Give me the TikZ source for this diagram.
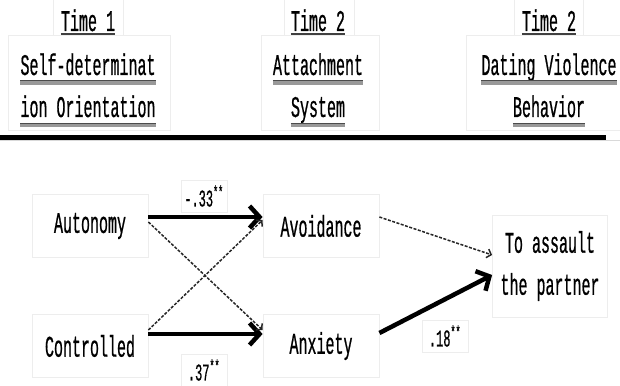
\documentclass[tikz,border=0pt]{standalone}
\usepackage{fontspec}
\setmainfont[FakeStretch=0.5,FakeBold=0.6]{Liberation Mono}
\usetikzlibrary{arrows.meta}

\begin{document}
\begin{tikzpicture}[x=1pt,y=-1pt,line cap=butt,
    every node/.style={inner sep=0pt,font=\fontsize{30}{42}\selectfont},
    frame/.style={draw=black!7,line width=0.8pt},
    varbox/.style={frame,minimum width=116pt,minimum height=63pt},
    lblbox/.style={frame,minimum width=46pt,minimum height=32pt,font=\fontsize{24}{26}\selectfont},
    oneline/.style={draw=black!75,line width=1.6pt},
    twoline/.style={draw=black!40,line width=4pt},
    strong/.style={line width=4.5pt,-{Straight Barb[length=10pt,width=22pt]}},
    weak/.style={line width=1.5pt,draw=black!85,dash pattern=on 3pt off 1.5pt,-{Straight Barb[length=4pt,width=9pt]}}]
\useasboundingbox (0,0) rectangle (620,385);

% header frames
\draw[frame] (53,-2) rectangle (123,35);
\draw[frame] (8,35) rectangle (170,130);
\draw[frame] (284,-2) rectangle (354,35);
\draw[frame] (261,35) rectangle (379,130);
\draw[frame] (514,-2) rectangle (583,35);
\draw[frame] (466,35) rectangle (625,130);

% header texts
\node[anchor=base] (t1) at (88,31) {Time 1};
\node[anchor=base] (sd1) at (88,75) {Self-determinat};
\node[anchor=base] (sd2) at (88,117) {ion Orientation};
\node[anchor=base] (t2) at (318,31) {Time 2};
\node[anchor=base] (as1) at (318,75) {Attachment};
\node[anchor=base] (as2) at (318,117) {System};
\node[anchor=base] (t3) at (549,31) {Time 2};
\node[anchor=base] (dv1) at (549,75) {Dating Violence};
\node[anchor=base] (dv2) at (549,117) {Behavior};

% underlines
\foreach \n in {t1,t2,t3}
  \draw[oneline] ([yshift=-3pt]\n.base west) -- ([yshift=-3pt]\n.base east);
\foreach \n in {sd1,sd2,as1,as2,dv1,dv2}{
  \draw[twoline] ([yshift=-8pt]\n.base west) -- ([yshift=-8pt]\n.base east);
  \draw[draw=black!70,line width=1pt] ([yshift=-6pt]\n.base west) -- ([yshift=-6pt]\n.base east);
}

% rule
\draw[draw=black!15,line width=1pt] (0,140) -- (620,140);
\draw[line width=5pt] (0,137) -- (606,137);

% variables
\node[varbox] (auto) at (90,226) {Autonomy};
\node[varbox] (ctrl) at (90,346) {Controlled};
\node[varbox] (avo) at (321,226) {Avoidance};
\node[varbox] (anx) at (321,346) {Anxiety};
\node[frame,minimum width=115pt,minimum height=102pt,align=center] (tap) at (550,266)
  {To assault\\the partner};

% coefficients
\node[lblbox] (c1) at (204,196) {-.33\textsuperscript{**}};
\node[lblbox] (c2) at (204,370) {.37\textsuperscript{**}};
\node[lblbox] (c3) at (445,336) {.18\textsuperscript{**}};

% paths
\draw[strong] ([yshift=9pt]auto.east) -- ([yshift=9pt]avo.west);
\draw[strong] ([yshift=12pt]ctrl.east) -- ([yshift=12pt]anx.west);
\draw[weak] ([yshift=4pt]auto.east) -- ([yshift=16pt]anx.west);
\draw[weak] ([yshift=16pt]ctrl.east) -- ([yshift=6pt]avo.west);
\draw[weak] ([yshift=9pt]avo.east) -- ([yshift=11pt]tap.west);
\draw[strong] ([yshift=13pt]anx.east) -- ([yshift=-9pt]tap.west);
\end{tikzpicture}
\end{document}
